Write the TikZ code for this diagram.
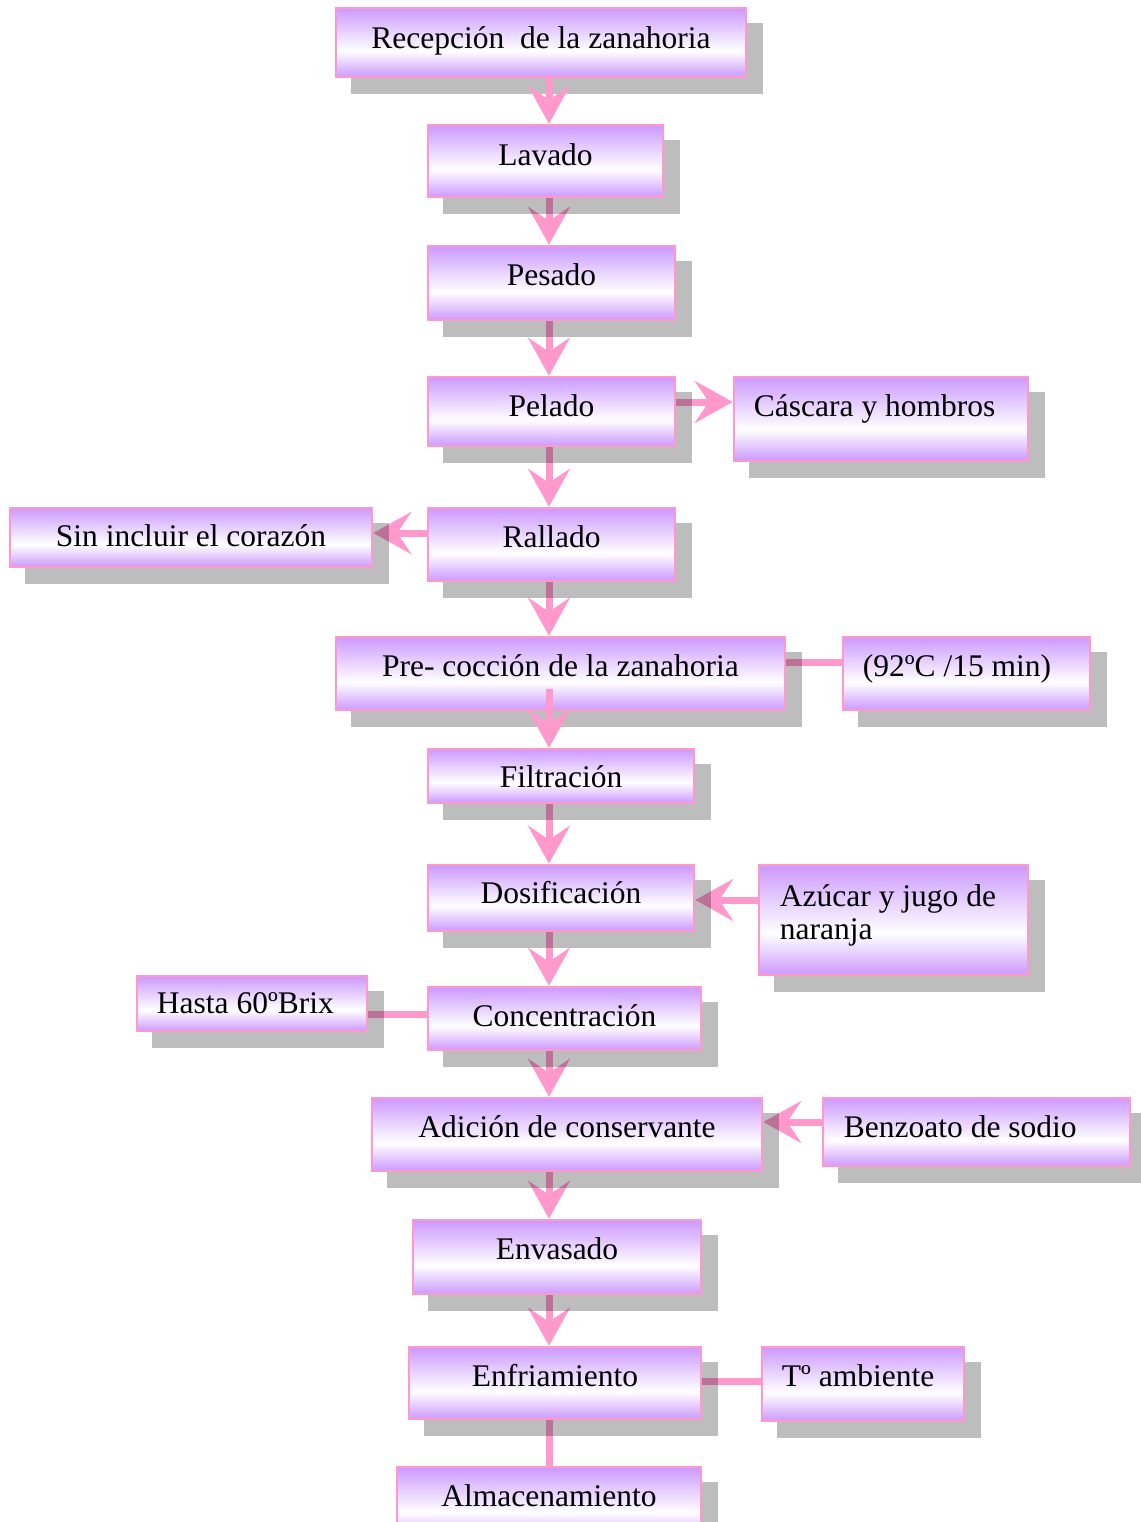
\documentclass[tikz,border=0pt]{standalone}
\usepackage{fontspec}
\setmainfont{Liberation Serif}
\usetikzlibrary{arrows.meta,calc}
\definecolor{lav}{RGB}{204,153,255}
\definecolor{pinkc}{RGB}{255,153,204}
\pgfdeclareverticalshading{boxshade}{100bp}{color(0bp)=(lav); color(25bp)=(lav); color(44bp)=(white); color(75bp)=(lav); color(100bp)=(lav)}
\pgfdeclarelayer{arr}
\pgfdeclarelayer{shad}
\pgfdeclarelayer{top}
\pgfsetlayers{arr,shad,main,top}
\tikzset{
  box/.style={draw=pinkc, line width=2.5pt, shade, shading=boxshade, inner sep=0pt},
  txt/.style={inner sep=0pt, font=\fontsize{31.5}{33}\selectfont},
  flow/.style={draw=pinkc, line width=7pt, -{Stealth[length=38pt,width=42pt,inset=14pt]}},
  link/.style={draw=pinkc, line width=7pt},
  shadowbox/.style={fill=black, opacity=0.26}
}
\begin{document}
\begin{tikzpicture}[x=1pt,y=-1pt]
\useasboundingbox (0,0) rectangle (1140,1522);
\coordinate (axis) at (549,0);
% main column
\node[box, minimum width=410pt, minimum height=69pt] (rec) at (541,42.5) {};
\node[txt, anchor=base] (trec) at ($(rec.north)+(0,42)$) {Recepción\ \ de la zanahoria};
\node[box, minimum width=235pt, minimum height=72pt] (lav) at (545.5,161) {};
\node[txt, anchor=base] (tlav) at ($(lav.north)+(0,42)$) {Lavado};
\node[box, minimum width=247pt, minimum height=74pt] (pes) at (551.5,283) {};
\node[txt, anchor=base] (tpes) at ($(pes.north)+(0,41)$) {Pesado};
\node[box, minimum width=247pt, minimum height=69pt] (pel) at (551.5,411.5) {};
\node[txt, anchor=base] (tpel) at ($(pel.north)+(0,41)$) {Pelado};
\node[box, minimum width=247pt, minimum height=73pt] (ral) at (551.5,544.5) {};
\node[txt, anchor=base] (tral) at ($(ral.north)+(0,41)$) {Rallado};
\node[box, minimum width=449pt, minimum height=73pt] (pre) at (560.5,673.5) {};
\node[txt, anchor=base] (tpre) at ($(pre.north)+(0,41)$) {Pre- cocción de la zanahoria};
\node[box, minimum width=266pt, minimum height=54pt] (fil) at (561,776) {};
\node[txt, anchor=base] (tfil) at ($(fil.north)+(0,40)$) {Filtración};
\node[box, minimum width=266pt, minimum height=66pt] (dos) at (561,898) {};
\node[txt, anchor=base] (tdos) at ($(dos.north)+(0,40)$) {Dosificación};
\node[box, minimum width=273pt, minimum height=63pt] (con) at (564.5,1018.5) {};
\node[txt, anchor=base] (tcon) at ($(con.north)+(0,41)$) {Concentración};
\node[box, minimum width=390pt, minimum height=73pt] (adi) at (567,1134.5) {};
\node[txt, anchor=base] (tadi) at ($(adi.north)+(0,41)$) {Adición de conservante};
\node[box, minimum width=288pt, minimum height=74pt] (env) at (557,1257) {};
\node[txt, anchor=base] (tenv) at ($(env.north)+(0,41)$) {Envasado};
\node[box, minimum width=292pt, minimum height=72pt] (enf) at (555,1383) {};
\node[txt, anchor=base] (tenf) at ($(enf.north)+(0,41)$) {Enfriamiento};
\node[box, minimum width=304pt, minimum height=73pt] (alm) at (549,1503.5) {};
\node[txt, anchor=base] (talm) at ($(alm.north)+(0,41)$) {Almacenamiento};
% side boxes
\node[box, minimum width=294pt, minimum height=84pt] (cas) at (881,419) {};
\node[txt, anchor=base west] (tcas) at ($(cas.north west)+(21,41)$) {Cáscara y hombros};
\node[box, minimum width=362pt, minimum height=59pt] (sin) at (191,537.5) {};
\node[txt, anchor=base] (tsin) at ($(sin.north)+(0,40)$) {Sin incluir el corazón};
\node[box, minimum width=247pt, minimum height=73pt] (tem) at (966.5,673.5) {};
\node[txt, anchor=base west] (ttem) at ($(tem.north west)+(21,41)$) {(92ºC /15 min)};
\node[box, minimum width=269pt, minimum height=110pt] (azu) at (893.5,920) {};
\node[txt, anchor=base west, align=left] (tazu) at ($(azu.north west)+(22,76)$) {Azúcar y jugo de\\naranja};
\node[box, minimum width=230pt, minimum height=55pt] (has) at (252,1003.5) {};
\node[txt, anchor=base west] (thas) at ($(has.north west)+(21,39)$) {Hasta 60ºBrix};
\node[box, minimum width=307pt, minimum height=68pt] (ben) at (976.5,1132) {};
\node[txt, anchor=base west] (tben) at ($(ben.north west)+(22,41)$) {Benzoato de sodio};
\node[box, minimum width=202pt, minimum height=74pt] (tam) at (863,1384) {};
\node[txt, anchor=base west] (ttam) at ($(tam.north west)+(21,41)$) {Tº ambiente};
% shadows
\begin{pgfonlayer}{shad}
\foreach \n in {rec,lav,pes,pel,ral,pre,fil,dos,con,adi,env,enf,alm,cas,sin,tem,azu,has,ben,tam}
  \fill[shadowbox] ($(\n.south west)+(16,16)$) rectangle ($(\n.north east)+(16,16)$);
\end{pgfonlayer}
% connectors
\coordinate (p1) at ($(pel.east)+(0,-9.5)$);
\coordinate (r1) at ($(ral.west)+(0,-11.5)$);
\coordinate (q1) at ($(pre.east)+(0,-11.5)$);
\coordinate (a1) at ($(azu.west)+(0,-20)$);
\coordinate (c1) at ($(con.west)+(0,-4.5)$);
\coordinate (b1) at ($(ben.west)+(0,-10)$);
\coordinate (e1) at ($(enf.east)+(0,-2)$);
\coordinate (f0) at ($(pre.south -| axis)+(0,-22)$);
\begin{pgfonlayer}{arr}
\draw[flow] (lav.south -| axis) -- (pes.north -| axis);
\draw[flow] (pes.south -| axis) -- (pel.north -| axis);
\draw[flow] (pel.south -| axis) -- (ral.north -| axis);
\draw[flow] (ral.south -| axis) -- (pre.north -| axis);
\draw[flow] (fil.south -| axis) -- (dos.north -| axis);
\draw[flow] (dos.south -| axis) -- (con.north -| axis);
\draw[flow] (con.south -| axis) -- (adi.north -| axis);
\draw[flow] (adi.south -| axis) -- (env.north -| axis);
\draw[flow] (env.south -| axis) -- (enf.north -| axis);
\draw[link] (enf.south -| axis) -- (alm.north -| axis);
\draw[flow] (p1) -- (p1 -| cas.west);
\draw[flow] (r1) -- (r1 -| sin.east);
\draw[link] (q1) -- (q1 -| tem.west);
\draw[flow] (a1) -- (a1 -| dos.east);
\draw[link] (c1) -- (c1 -| has.east);
\draw[flow] (b1) -- (b1 -| adi.east);
\draw[link] (e1) -- (e1 -| tam.west);
\end{pgfonlayer}
\begin{pgfonlayer}{top}
\draw[flow] (rec.south -| axis) -- (lav.north -| axis);
\draw[flow] (f0) -- (fil.north -| axis);
\end{pgfonlayer}
\end{tikzpicture}
\end{document}
